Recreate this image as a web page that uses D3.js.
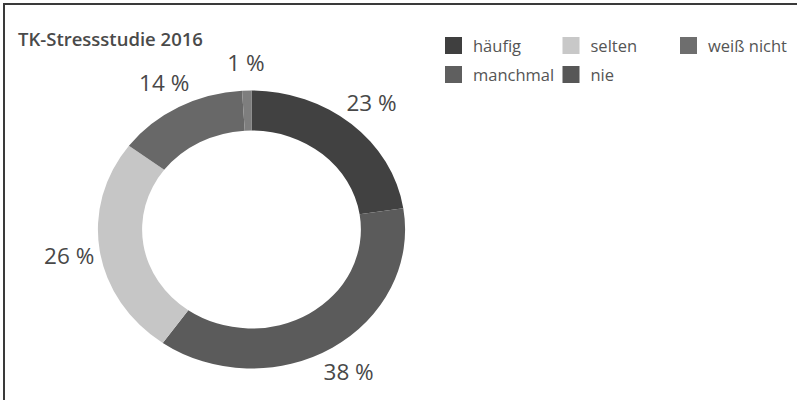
<!DOCTYPE html>
<html>
<head>
<meta charset="utf-8">
<script src="https://cdn.jsdelivr.net/npm/d3@7"></script>
<style>
  html, body { margin: 0; padding: 0; background: #fff; }
  svg { display: block; }
</style>
</head>
<body>
<svg id="chart" width="797" height="400"></svg>
<script>
const title = "TK-Stressstudie 2016";
const categories = ["häufig", "manchmal", "selten", "nie", "weiß nicht"];
const values = [23, 38, 26, 14, 1];
const colors = ["#414141", "#5b5b5b", "#c6c6c6", "#686868", "#7e7e7e"];
const legendColors = ["#3f3f3f", "#5f5f5f", "#c8c8c8", "#575757", "#6e6e6e"];
const labelText = values.map(v => v + "\u00A0%");

const svg = d3.select("#chart");
const W = 797, H = 400;
const font = "'Open Sans', 'Noto Sans', sans-serif";

// frame (top + left)
svg.append("line").attr("x1", 4).attr("y1", 4).attr("x2", W).attr("y2", 4)
  .attr("stroke", "#3a3a3a").attr("stroke-width", 2);
svg.append("line").attr("x1", 4).attr("y1", 3).attr("x2", 4).attr("y2", H)
  .attr("stroke", "#3a3a3a").attr("stroke-width", 2);

// title
svg.append("text").attr("x", 18).attr("y", 46)
  .attr("font-family", font).attr("font-size", 18.5).attr("font-weight", 600)
  .attr("fill", "#4a4a4a").text(title);

// donut
const cx = 251.5, cy = 229.5, sx = 1.105;
const outerR = 139, innerR = 99, labelR = 167;
const g = svg.append("g").attr("transform", `translate(${cx},${cy}) scale(${sx},1)`);
const pie = d3.pie().sort(null).value(d => d)(values);
const arc = d3.arc().innerRadius(innerR).outerRadius(outerR);
const labelArc = d3.arc().innerRadius(labelR).outerRadius(labelR);

g.selectAll("path").data(pie).join("path")
  .attr("d", arc).attr("fill", (d, i) => colors[i]);

svg.append("g").attr("transform", `translate(${cx},${cy})`)
  .selectAll("text").data(pie).join("text")
  .attr("x", d => labelArc.centroid(d)[0] * sx)
  .attr("y", d => labelArc.centroid(d)[1])
  .attr("text-anchor", "middle").attr("dominant-baseline", "central")
  .attr("font-family", font).attr("font-size", 22.5)
  .attr("fill", "#484848")
  .text((d, i) => labelText[i]);

// legend: 2 rows, column-major
const legX = 445, legY = 37, colW = 117.5, rowH = 29, sw = 17;
const leg = svg.append("g");
categories.forEach((c, i) => {
  const col = Math.floor(i / 2), row = i % 2;
  const x = legX + col * colW, y = legY + row * rowH;
  leg.append("rect").attr("x", x).attr("y", y).attr("width", sw).attr("height", sw)
    .attr("fill", legendColors[i]);
  leg.append("text").attr("x", x + 28).attr("y", y + sw / 2)
    .attr("dominant-baseline", "central")
    .attr("font-family", font).attr("font-size", 16.5)
    .attr("fill", "#555").text(c);
});
</script>
</body>
</html>
